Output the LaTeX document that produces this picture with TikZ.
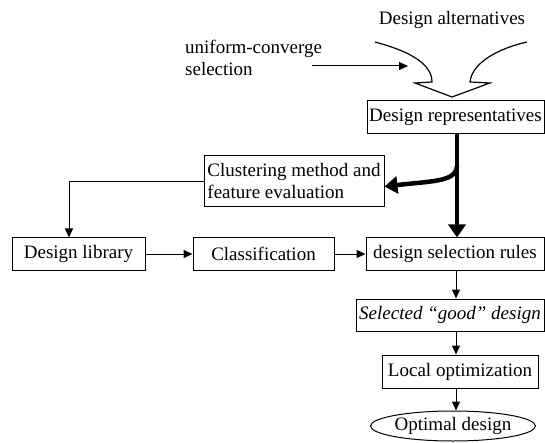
\documentclass[tikz,border=0pt]{standalone}
\usepackage{fontspec}
\setmainfont{Liberation Serif}
\usetikzlibrary{arrows.meta,shapes.geometric}
\begin{document}
\begin{tikzpicture}[x=1pt,y=-1pt,
  every node/.style={font=\fontsize{19}{22}\selectfont, inner sep=2pt},
  box/.style={draw, line width=1pt, minimum height=32pt},
  thin/.style={line width=1pt, -{Triangle[length=9pt,width=8pt]}},
  thick/.style={line width=4.5pt, -{Triangle[length=13pt,width=17pt]}}]
\useasboundingbox (0,0) rectangle (545,443);
\fill[white] (0,0) rectangle (545,443);
\node (alt) at (452,20) {Design alternatives};
\node[anchor=west, align=left] (uni) at (183,58) {uniform-converge\\selection};
\coordinate (ua) at (312,66);
\coordinate (ub) at (408,66);
\draw[thin] (ua) -- (ub);
% funnel
\draw[line width=1.2pt, line join=miter]
  (375,42) .. controls (405,50) and (432,62) .. (432,82) -- (415,83) -- (452,97)
  -- (490,83) -- (470,82) .. controls (472,62) and (500,48) .. (527,42);
\node[box, minimum width=177pt, minimum height=33pt] (rep) at (455.5,117.5) {Design representatives};
\node[box, minimum width=180pt, minimum height=51pt, align=left] (clus) at (294,181.5) {Clustering method and\\feature evaluation};
\node[box, minimum width=133pt] (lib) at (78.5,254) {Design library};
\node[box, minimum width=141pt] (cls) at (263.5,254) {Classification};
\node[box, minimum width=178pt] (dsr) at (455,254) {design selection rules};
\node[box, minimum width=188pt, font=\fontsize{19}{22}\selectfont\itshape] (sel) at (450,315) {Selected ``good'' design};
\node[box, minimum width=156pt, minimum height=33pt] (loc) at (460,371.5) {Local optimization};
\node[draw, ellipse, line width=1pt, minimum width=137pt, minimum height=30pt, inner sep=0pt] (opt) at (453,426) {Optimal design};
\coordinate (X) at (457,0);
\coordinate (Y) at (456,0);
\coordinate (br) at (457,166);
\coordinate (cl) at (69,0);
% thick arrows
\draw[thick] (rep.south -| X) -- (dsr.north -| X);
\draw[thick] (br) .. controls (456,182) and (432,181) .. ([yshift=-5pt]clus.east);
% thin arrows
\draw[thin] (clus.west) -| (lib.north -| cl);
\draw[thin] (lib.east) -- (cls.west);
\draw[thin] (cls.east) -- (dsr.west);
\draw[thin] (dsr.south -| Y) -- (sel.north -| Y);
\draw[thin] (sel.south -| Y) -- (loc.north -| Y);
\draw[thin] (loc.south -| Y) -- (opt.north -| Y);
\end{tikzpicture}
\end{document}
